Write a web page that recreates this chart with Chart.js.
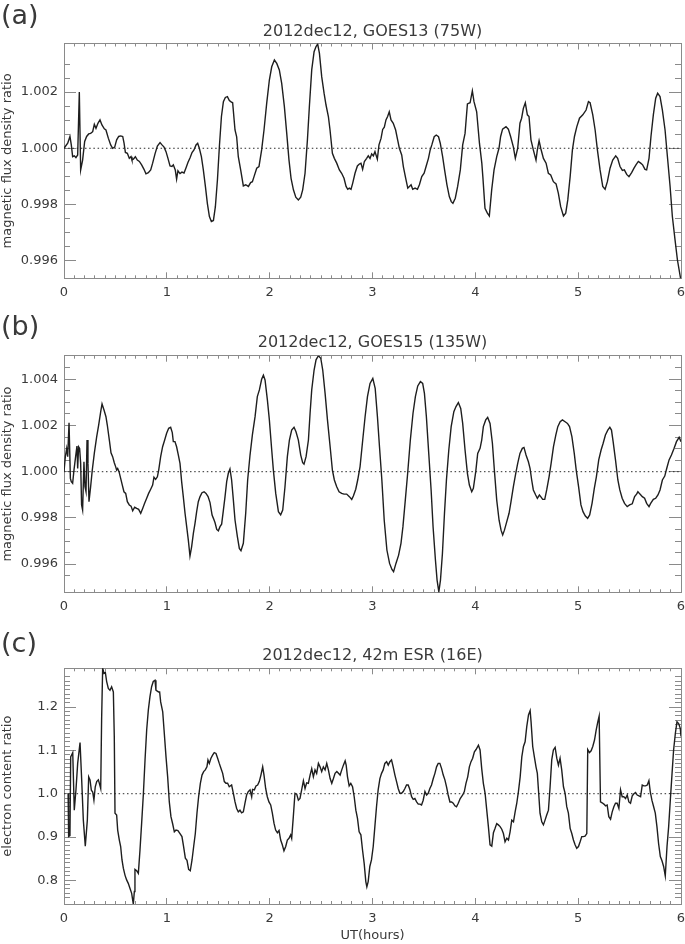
<!DOCTYPE html>
<html><head><meta charset="utf-8">
<script src="https://cdn.jsdelivr.net/npm/chart.js@4.4.1/dist/chart.umd.min.js"></script>
<style>
html,body{margin:0;padding:0;background:#fff;}
body{width:685px;height:944px;position:relative;overflow:hidden;}
canvas{position:absolute;left:0;}
</style></head><body>
<canvas id="pa" width="685" height="310" style="top:0px"></canvas>
<canvas id="pb" width="685" height="310" style="top:310px"></canvas>
<canvas id="pc" width="685" height="324" style="top:620px"></canvas>
<script>
// ---------------- data ----------------
const timeA = [0.000,0.036,0.058,0.071,0.084,0.100,0.116,0.133,0.149,0.162,0.181,0.201,0.220,0.240,0.259,0.279,0.295,0.311,0.330,0.350,0.369,0.392,0.408,0.431,0.454,0.473,0.493,0.512,0.532,0.551,0.571,0.584,0.597,0.616,0.635,0.652,0.661,0.674,0.694,0.713,0.733,0.755,0.778,0.797,0.820,0.843,0.862,0.885,0.908,0.934,0.953,0.973,0.992,1.011,1.031,1.050,1.063,1.082,1.095,1.108,1.128,1.147,1.167,1.186,1.206,1.225,1.245,1.264,1.284,1.300,1.316,1.336,1.355,1.375,1.394,1.414,1.433,1.453,1.472,1.492,1.511,1.531,1.550,1.569,1.589,1.608,1.625,1.640,1.663,1.679,1.695,1.718,1.744,1.767,1.793,1.815,1.832,1.848,1.874,1.896,1.922,1.945,1.971,1.997,2.020,2.046,2.069,2.094,2.117,2.143,2.166,2.188,2.208,2.231,2.254,2.279,2.302,2.321,2.344,2.367,2.386,2.409,2.432,2.451,2.467,2.484,2.506,2.529,2.548,2.571,2.587,2.610,2.629,2.652,2.678,2.700,2.723,2.743,2.759,2.775,2.791,2.807,2.830,2.853,2.872,2.888,2.904,2.921,2.943,2.959,2.976,2.992,3.008,3.024,3.047,3.063,3.083,3.099,3.115,3.131,3.147,3.163,3.180,3.202,3.225,3.245,3.261,3.284,3.300,3.323,3.343,3.359,3.375,3.391,3.414,3.437,3.456,3.479,3.502,3.521,3.544,3.561,3.577,3.600,3.620,3.642,3.659,3.682,3.701,3.724,3.747,3.766,3.782,3.805,3.828,3.854,3.877,3.900,3.923,3.949,3.971,3.987,4.013,4.040,4.063,4.073,4.094,4.117,4.136,4.159,4.182,4.208,4.230,4.246,4.265,4.298,4.321,4.343,4.369,4.389,4.412,4.434,4.450,4.467,4.486,4.506,4.522,4.541,4.564,4.590,4.603,4.620,4.636,4.662,4.688,4.710,4.733,4.759,4.785,4.807,4.830,4.857,4.879,4.899,4.922,4.944,4.964,4.987,5.013,5.045,5.077,5.100,5.116,5.142,5.165,5.187,5.213,5.239,5.262,5.284,5.310,5.336,5.365,5.384,5.407,5.430,5.449,5.472,5.494,5.520,5.543,5.562,5.585,5.608,5.627,5.650,5.666,5.689,5.708,5.731,5.754,5.773,5.796,5.819,5.845,5.868,5.894,5.916,5.942,5.965,5.997];
const valueA = [1.00000,1.00018,1.00042,1.00012,0.99970,0.99973,0.99967,0.99976,1.00200,0.99923,0.99958,1.00024,1.00042,1.00051,1.00053,1.00059,1.00085,1.00071,1.00089,1.00101,1.00083,1.00069,1.00065,1.00036,1.00012,1.00000,1.00004,1.00030,1.00042,1.00044,1.00042,1.00018,0.99985,0.99982,0.99964,0.99970,0.99958,0.99961,0.99970,0.99958,0.99953,0.99941,0.99925,0.99909,0.99913,0.99923,0.99947,0.99980,1.00008,1.00020,1.00012,1.00004,0.99988,0.99964,0.99937,0.99935,0.99941,0.99923,0.99890,0.99920,0.99910,0.99915,0.99912,0.99930,0.99950,0.99965,0.99985,0.99994,1.00012,1.00018,1.00000,0.99970,0.99923,0.99864,0.99804,0.99757,0.99739,0.99743,0.99792,0.99887,1.00006,1.00113,1.00166,1.00181,1.00184,1.00170,1.00165,1.00162,1.00065,1.00041,0.99970,0.99923,0.99866,0.99870,0.99864,0.99878,0.99881,0.99899,0.99929,0.99935,0.99994,1.00065,1.00160,1.00243,1.00290,1.00314,1.00302,1.00279,1.00231,1.00148,1.00053,0.99958,0.99893,0.99852,0.99826,0.99816,0.99826,0.99852,0.99911,1.00029,1.00148,1.00279,1.00344,1.00362,1.00371,1.00338,1.00255,1.00196,1.00154,1.00113,1.00065,0.99982,0.99964,0.99947,0.99923,0.99911,0.99893,0.99864,0.99854,0.99858,0.99854,0.99875,0.99911,0.99937,0.99944,0.99947,0.99925,0.99953,0.99964,0.99973,0.99964,0.99980,0.99973,0.99988,0.99961,1.00012,1.00035,1.00067,1.00075,1.00101,1.00113,1.00130,1.00101,1.00089,1.00065,1.00029,1.00000,0.99976,0.99935,0.99893,0.99858,0.99864,0.99870,0.99854,0.99858,0.99854,0.99870,0.99899,0.99911,0.99935,0.99964,0.99994,1.00012,1.00041,1.00047,1.00041,1.00018,0.99970,0.99923,0.99870,0.99828,0.99810,0.99804,0.99822,0.99864,0.99923,1.00012,1.00053,1.00158,1.00162,1.00204,1.00166,1.00130,1.00018,0.99947,0.99899,0.99786,0.99769,0.99759,0.99852,0.99923,0.99970,1.00000,1.00042,1.00068,1.00077,1.00068,1.00042,1.00006,0.99964,1.00000,1.00089,1.00107,1.00142,1.00162,1.00119,1.00113,1.00030,0.99994,0.99958,0.99994,1.00027,1.00000,0.99964,0.99947,0.99911,0.99905,0.99881,0.99873,0.99840,0.99792,0.99759,0.99769,0.99816,0.99899,0.99994,1.00042,1.00077,1.00107,1.00119,1.00136,1.00166,1.00162,1.00119,1.00065,0.99994,0.99923,0.99864,0.99854,0.99881,0.99929,0.99958,0.99973,0.99964,0.99935,0.99921,0.99923,0.99907,0.99899,0.99913,0.99929,0.99941,0.99953,0.99947,0.99941,0.99925,0.99923,0.99964,1.00042,1.00119,1.00178,1.00196,1.00184,1.00136,1.00065,0.99970,0.99864,0.99757,0.99674,0.99603,0.99534];

const timeB = [0.000,0.013,0.026,0.036,0.049,0.062,0.071,0.084,0.097,0.113,0.126,0.133,0.142,0.152,0.162,0.171,0.181,0.194,0.204,0.214,0.224,0.233,0.243,0.259,0.275,0.295,0.318,0.337,0.357,0.370,0.389,0.408,0.421,0.441,0.457,0.473,0.489,0.502,0.512,0.522,0.535,0.551,0.567,0.583,0.600,0.616,0.635,0.652,0.668,0.687,0.707,0.726,0.746,0.765,0.784,0.804,0.823,0.843,0.862,0.875,0.891,0.908,0.921,0.940,0.959,0.979,0.998,1.018,1.037,1.053,1.063,1.079,1.095,1.112,1.128,1.144,1.160,1.177,1.193,1.209,1.225,1.241,1.258,1.274,1.290,1.306,1.323,1.342,1.362,1.381,1.401,1.420,1.440,1.453,1.469,1.485,1.501,1.517,1.533,1.550,1.566,1.582,1.598,1.614,1.630,1.647,1.663,1.686,1.705,1.721,1.744,1.767,1.786,1.809,1.832,1.858,1.880,1.900,1.922,1.939,1.955,1.978,1.997,2.020,2.036,2.059,2.085,2.107,2.127,2.149,2.172,2.192,2.214,2.237,2.256,2.279,2.302,2.321,2.334,2.354,2.377,2.393,2.409,2.432,2.451,2.474,2.497,2.516,2.539,2.562,2.588,2.610,2.629,2.652,2.675,2.700,2.723,2.749,2.775,2.798,2.814,2.837,2.856,2.879,2.905,2.928,2.951,2.976,3.003,3.026,3.048,3.068,3.091,3.114,3.140,3.166,3.189,3.205,3.228,3.254,3.277,3.296,3.319,3.342,3.368,3.394,3.417,3.440,3.466,3.488,3.505,3.524,3.547,3.570,3.589,3.612,3.628,3.645,3.661,3.680,3.700,3.719,3.742,3.765,3.791,3.812,3.835,3.858,3.877,3.900,3.923,3.942,3.965,3.981,4.004,4.023,4.046,4.062,4.078,4.101,4.120,4.143,4.166,4.185,4.208,4.231,4.250,4.266,4.283,4.305,4.328,4.347,4.370,4.393,4.412,4.434,4.457,4.473,4.493,4.516,4.532,4.548,4.564,4.587,4.603,4.623,4.636,4.655,4.675,4.694,4.717,4.737,4.760,4.783,4.802,4.825,4.847,4.873,4.896,4.916,4.939,4.962,4.981,5.004,5.027,5.047,5.070,5.092,5.112,5.135,5.157,5.177,5.200,5.223,5.243,5.265,5.288,5.308,5.324,5.340,5.363,5.386,5.405,5.428,5.451,5.477,5.500,5.526,5.549,5.568,5.581,5.601,5.624,5.646,5.666,5.689,5.705,5.731,5.754,5.776,5.796,5.819,5.842,5.861,5.884,5.907,5.933,5.956,5.982,6.000];
const valueB = [1.00000,1.00065,1.00100,1.00065,1.00212,0.99971,0.99957,0.99950,1.00007,1.00065,1.00111,1.00014,1.00108,1.00101,1.00036,0.99856,0.99834,1.00043,0.99935,0.99914,1.00137,1.00036,0.99870,0.99935,1.00007,1.00080,1.00152,1.00202,1.00260,1.00293,1.00267,1.00238,1.00202,1.00137,1.00082,1.00065,1.00039,1.00022,1.00007,1.00014,1.00000,0.99971,0.99942,0.99913,0.99906,0.99870,0.99856,0.99851,0.99831,0.99846,0.99841,0.99837,0.99820,0.99841,0.99863,0.99885,0.99906,0.99924,0.99942,0.99976,0.99967,0.99978,1.00007,1.00065,1.00108,1.00137,1.00166,1.00188,1.00192,1.00169,1.00130,1.00130,1.00108,1.00072,1.00036,0.99957,0.99892,0.99820,0.99762,0.99704,0.99635,0.99675,0.99733,0.99776,0.99827,0.99870,0.99892,0.99909,0.99913,0.99906,0.99892,0.99866,0.99812,0.99798,0.99779,0.99750,0.99744,0.99762,0.99773,0.99834,0.99892,0.99957,0.99993,1.00012,0.99964,0.99877,0.99791,0.99719,0.99668,0.99658,0.99690,0.99820,0.99964,1.00072,1.00159,1.00238,1.00325,1.00354,1.00400,1.00418,1.00397,1.00310,1.00224,1.00094,1.00007,0.99906,0.99827,0.99813,0.99834,0.99935,1.00065,1.00137,1.00180,1.00192,1.00173,1.00137,1.00072,1.00039,1.00033,1.00065,1.00137,1.00253,1.00354,1.00440,1.00484,1.00502,1.00491,1.00440,1.00339,1.00224,1.00108,1.00007,0.99964,0.99935,0.99913,0.99906,0.99903,0.99903,0.99892,0.99880,0.99895,0.99924,0.99964,1.00022,1.00137,1.00238,1.00325,1.00382,1.00404,1.00361,1.00238,1.00108,0.99964,0.99790,0.99661,0.99603,0.99577,0.99567,0.99603,0.99639,0.99690,0.99762,0.99877,0.99993,1.00137,1.00253,1.00325,1.00371,1.00390,1.00382,1.00339,1.00238,1.00079,0.99921,0.99762,0.99618,0.99531,0.99480,0.99531,0.99646,0.99820,0.99964,1.00094,1.00195,1.00260,1.00282,1.00299,1.00274,1.00209,1.00094,0.99993,0.99942,0.99913,0.99928,1.00000,1.00079,1.00101,1.00137,1.00195,1.00224,1.00235,1.00209,1.00123,1.00007,0.99877,0.99790,0.99747,0.99726,0.99747,0.99783,0.99820,0.99870,0.99935,0.99993,1.00036,1.00079,1.00101,1.00105,1.00072,1.00043,1.00014,0.99964,0.99921,0.99899,0.99885,0.99899,0.99892,0.99880,0.99880,0.99921,0.99978,1.00036,1.00108,1.00159,1.00195,1.00216,1.00224,1.00216,1.00209,1.00195,1.00152,1.00079,1.00007,0.99935,0.99856,0.99827,0.99808,0.99798,0.99813,0.99863,0.99928,0.99978,1.00051,1.00094,1.00123,1.00159,1.00180,1.00192,1.00180,1.00130,1.00051,0.99964,0.99921,0.99885,0.99863,0.99849,0.99856,0.99861,0.99892,0.99903,0.99913,0.99903,0.99892,0.99885,0.99863,0.99849,0.99863,0.99880,0.99885,0.99899,0.99921,0.99964,0.99981,1.00014,1.00051,1.00072,1.00101,1.00130,1.00149,1.00130];

const timeC = [0.040,0.045,0.058,0.065,0.075,0.085,0.100,0.116,0.133,0.156,0.172,0.188,0.207,0.227,0.240,0.253,0.266,0.279,0.291,0.304,0.318,0.334,0.344,0.357,0.366,0.376,0.389,0.402,0.415,0.431,0.447,0.463,0.480,0.489,0.496,0.512,0.522,0.538,0.551,0.564,0.577,0.593,0.609,0.625,0.642,0.658,0.674,0.684,0.690,0.707,0.723,0.739,0.755,0.772,0.788,0.804,0.820,0.836,0.852,0.868,0.885,0.894,0.907,0.920,0.930,0.940,0.960,0.973,0.992,1.008,1.024,1.040,1.057,1.073,1.089,1.108,1.128,1.147,1.163,1.180,1.196,1.212,1.228,1.245,1.261,1.277,1.293,1.309,1.326,1.342,1.358,1.374,1.390,1.400,1.413,1.429,1.445,1.461,1.478,1.494,1.510,1.526,1.543,1.559,1.575,1.591,1.607,1.630,1.647,1.663,1.679,1.695,1.711,1.727,1.744,1.760,1.776,1.792,1.809,1.825,1.834,1.851,1.867,1.883,1.899,1.915,1.932,1.945,1.961,1.977,1.993,2.010,2.026,2.042,2.058,2.075,2.091,2.107,2.123,2.139,2.156,2.172,2.188,2.204,2.214,2.230,2.246,2.263,2.279,2.295,2.311,2.328,2.344,2.360,2.376,2.393,2.409,2.425,2.441,2.457,2.474,2.490,2.506,2.522,2.539,2.555,2.571,2.588,2.604,2.620,2.636,2.653,2.669,2.685,2.701,2.717,2.734,2.744,2.757,2.773,2.789,2.806,2.822,2.838,2.854,2.870,2.887,2.903,2.919,2.935,2.945,2.958,2.974,2.990,3.007,3.023,3.039,3.055,3.072,3.088,3.104,3.120,3.137,3.153,3.169,3.185,3.201,3.218,3.234,3.250,3.266,3.283,3.299,3.315,3.331,3.347,3.364,3.380,3.396,3.412,3.429,3.445,3.461,3.477,3.493,3.510,3.526,3.542,3.558,3.574,3.591,3.607,3.623,3.639,3.655,3.672,3.688,3.704,3.720,3.736,3.753,3.769,3.785,3.801,3.817,3.834,3.853,3.877,3.893,3.909,3.926,3.942,3.958,3.974,3.991,4.007,4.030,4.046,4.062,4.078,4.095,4.111,4.127,4.143,4.160,4.176,4.192,4.208,4.224,4.241,4.257,4.273,4.289,4.306,4.322,4.338,4.354,4.371,4.387,4.403,4.419,4.436,4.452,4.468,4.484,4.500,4.517,4.533,4.542,4.558,4.574,4.590,4.603,4.616,4.629,4.646,4.662,4.678,4.694,4.711,4.727,4.743,4.759,4.776,4.792,4.808,4.824,4.840,4.857,4.873,4.889,4.905,4.922,4.938,4.954,4.970,4.986,5.003,5.019,5.035,5.051,5.067,5.084,5.093,5.110,5.126,5.142,5.159,5.175,5.191,5.204,5.217,5.233,5.250,5.266,5.282,5.298,5.315,5.331,5.347,5.363,5.379,5.396,5.412,5.428,5.444,5.461,5.477,5.493,5.509,5.526,5.542,5.558,5.574,5.591,5.607,5.623,5.639,5.656,5.672,5.688,5.701,5.717,5.734,5.750,5.766,5.782,5.799,5.815,5.831,5.847,5.864,5.880,5.896,5.912,5.928,5.945,5.961,5.977,5.993,6.000];
const valueC = [1.000,0.901,0.903,1.085,1.090,1.095,0.962,1.008,1.070,1.118,1.032,0.939,0.879,0.939,1.039,1.032,1.008,1.004,0.985,1.016,1.028,1.032,1.024,1.012,1.174,1.290,1.278,1.280,1.259,1.243,1.239,1.247,1.235,1.132,0.955,0.951,0.916,0.893,0.878,0.847,0.828,0.812,0.801,0.793,0.781,0.770,0.745,0.774,0.825,0.822,0.816,0.870,0.932,1.000,1.078,1.147,1.193,1.224,1.247,1.259,1.262,1.239,1.237,1.235,1.235,1.212,1.189,1.147,1.085,1.039,0.981,0.947,0.930,0.912,0.916,0.915,0.908,0.901,0.878,0.851,0.846,0.825,0.822,0.847,0.878,0.908,0.955,0.993,1.024,1.043,1.051,1.055,1.062,1.078,1.070,1.082,1.089,1.095,1.093,1.082,1.070,1.059,1.047,1.028,1.024,1.024,1.016,1.020,1.001,0.981,0.966,0.958,0.962,0.956,0.958,0.978,0.997,1.005,1.009,0.993,1.010,1.009,1.018,1.020,1.028,1.043,1.062,1.043,1.012,0.993,0.981,0.974,0.955,0.932,0.916,0.910,0.915,0.893,0.882,0.868,0.878,0.893,0.897,0.905,0.897,0.947,1.001,0.999,0.985,0.989,1.009,1.030,1.012,1.025,1.024,1.043,1.058,1.039,1.055,1.047,1.070,1.062,1.051,1.062,1.055,1.070,1.055,1.035,1.024,1.035,1.047,1.051,1.047,1.043,1.055,1.066,1.076,1.066,1.039,1.018,1.024,1.016,0.993,0.962,0.943,0.912,0.905,0.870,0.839,0.797,0.785,0.797,0.832,0.847,0.878,0.924,0.970,1.009,1.035,1.047,1.055,1.070,1.074,1.066,1.074,1.078,1.062,1.043,1.028,1.012,1.001,1.001,1.005,1.012,1.020,1.020,1.009,0.993,0.987,0.989,0.981,0.976,0.976,0.974,0.985,1.005,0.997,1.001,1.012,1.020,1.035,1.047,1.062,1.070,1.070,1.058,1.043,1.032,1.016,0.997,0.981,0.981,0.978,0.972,0.970,0.978,0.989,0.997,1.005,1.024,1.039,1.062,1.074,1.082,1.097,1.102,1.112,1.101,1.058,1.024,1.001,0.962,0.924,0.882,0.879,0.910,0.920,0.931,0.928,0.924,0.918,0.908,0.889,0.897,0.893,0.912,0.939,0.935,0.958,0.978,1.005,1.039,1.085,1.109,1.120,1.155,1.182,1.192,1.166,1.109,1.085,1.062,1.047,1.001,0.955,0.935,0.928,0.939,0.951,0.962,1.016,1.078,1.101,1.107,1.082,1.066,1.082,1.055,1.016,1.001,0.970,0.955,0.920,0.908,0.893,0.882,0.874,0.878,0.889,0.901,0.901,0.902,0.908,1.102,1.095,1.099,1.109,1.124,1.147,1.166,1.179,0.981,0.979,0.976,0.972,0.974,0.947,0.941,0.958,0.970,0.978,0.978,0.966,1.009,0.993,0.993,0.989,0.997,0.981,0.978,0.995,1.000,1.003,0.997,0.995,0.993,1.020,1.018,1.018,1.020,1.030,1.005,0.985,0.970,0.955,0.924,0.885,0.855,0.845,0.832,0.810,0.878,0.924,0.985,1.043,1.101,1.139,1.166,1.162,1.151,1.132];

const referenceLevel = 1.0;
const timeRange = [0, 6];
const rangeA = [0.99537, 1.00373];
const rangeB = [0.99478, 1.00502];
const rangeC = [0.7453, 1.2896];

const xTickValues = [0, 1, 2, 3, 4, 5, 6];
const xTickLabels = ['0', '1', '2', '3', '4', '5', '6'];
const yTickValuesA = [0.996, 0.998, 1.000, 1.002];
const yTickLabelsA = ['0.996', '0.998', '1.000', '1.002'];
const yTickValuesB = [0.996, 0.998, 1.000, 1.002, 1.004];
const yTickLabelsB = ['0.996', '0.998', '1.000', '1.002', '1.004'];
const yTickValuesC = [0.8, 0.9, 1.0, 1.1, 1.2];
const yTickLabelsC = ['0.8', '0.9', '1.0', '1.1', '1.2'];

// ---------------- styling ----------------
const FONT = "'DejaVu Sans', 'Liberation Sans', sans-serif";
const AXIS = '#8a8a8a';
const TEXT = '#3a3a3a';
const LINE = '#1e1e1e';

const panelTextPlugin = {
  id: 'panelText',
  afterDraw(chart, args, o) {
    const ctx = chart.ctx, ca = chart.chartArea;
    ctx.save();
    ctx.fillStyle = TEXT;
    ctx.textBaseline = 'middle';
    ctx.textAlign = 'left';
    ctx.font = '27px ' + FONT;
    ctx.fillText(o.label, 1, o.labelY);
    ctx.textAlign = 'center';
    ctx.font = '16px ' + FONT;
    ctx.fillText(o.title, (ca.left + ca.right) / 2, o.titleY);
    ctx.restore();
  }
};

function fixedTicks(values) {
  return function (scale) { scale.ticks = values.map(v => ({ value: v })); };
}
function gridTicks(len) {
  return { display: true, drawOnChartArea: false, drawTicks: true, tickLength: -len, color: AXIS, lineWidth: 1 };
}
function fitHeight(h) {
  return function (s) { s.height = h; s.paddingLeft = 0; s.paddingRight = 0; s.paddingTop = 0; s.paddingBottom = 0; };
}
function fitWidth(w) {
  return function (s) { s.width = w; s.paddingLeft = 0; s.paddingRight = 0; s.paddingTop = 0; s.paddingBottom = 0; };
}

function makePanel(id, p) {
  const horiz = { type: 'linear', min: timeRange[0], max: timeRange[1] };
  const vert = { type: 'linear', min: p.range[0], max: p.range[1] };
  const border = { display: true, color: AXIS, width: 1 };
  const scales = {
    x: Object.assign({}, horiz, {
      position: 'bottom', weight: 1,
      afterBuildTicks: fixedTicks(xTickValues),
      afterFit: fitHeight(p.bottomH),
      grid: gridTicks(6), border: border,
      ticks: { display: true, autoSkip: false, maxRotation: 0, minRotation: 0, padding: 13, color: TEXT,
               font: { family: FONT, size: 13 }, callback: (v, i) => xTickLabels[i] },
      title: p.xTitle ? { display: true, text: p.xTitle, color: TEXT, font: { family: FONT, size: 13 },
                          padding: { top: 0, bottom: 1 } } : { display: false }
    }),
    xm: Object.assign({}, horiz, {
      position: 'bottom', weight: 0, afterFit: fitHeight(0),
      grid: gridTicks(3), border: { display: false },
      ticks: { display: false, stepSize: 0.1, autoSkip: false }
    }),
    xt: Object.assign({}, horiz, {
      position: 'top', weight: 1, afterBuildTicks: fixedTicks(xTickValues),
      afterFit: fitHeight(0),
      grid: gridTicks(6), border: border, ticks: { display: false }
    }),
    xtm: Object.assign({}, horiz, {
      position: 'top', weight: 0, afterFit: fitHeight(0),
      grid: gridTicks(3), border: { display: false },
      ticks: { display: false, stepSize: 0.1, autoSkip: false }
    }),
    y: Object.assign({}, vert, {
      position: 'left', weight: 1, afterBuildTicks: fixedTicks(p.yTicks),
      afterFit: fitWidth(64),
      grid: gridTicks(12), border: border,
      ticks: { display: true, autoSkip: false, padding: 18, color: TEXT,
               font: { family: FONT, size: 13 }, callback: (v, i) => p.yLabels[i] },
      title: { display: true, text: p.yTitle, color: TEXT, font: { family: FONT, size: 13 },
               padding: { top: 0, bottom: 0 } }
    }),
    ym: Object.assign({}, vert, {
      position: 'left', weight: 0, afterFit: fitWidth(0),
      grid: gridTicks(6), border: { display: false },
      ticks: { display: false, stepSize: p.yMinor, autoSkip: false }
    }),
    yr: Object.assign({}, vert, {
      position: 'right', weight: 1, afterBuildTicks: fixedTicks(p.yTicks),
      afterFit: fitWidth(0),
      grid: gridTicks(12), border: border, ticks: { display: false }
    }),
    yrm: Object.assign({}, vert, {
      position: 'right', weight: 0, afterFit: fitWidth(0),
      grid: gridTicks(6), border: { display: false },
      ticks: { display: false, stepSize: p.yMinor, autoSkip: false }
    })
  };
  return new Chart(document.getElementById(id), {
    type: 'line',
    data: {
      datasets: [
        { data: p.times.map((t, i) => ({ x: t, y: p.values[i] })), borderColor: LINE, borderWidth: 1.4,
          pointRadius: 0, fill: false, tension: 0, xAxisID: 'x', yAxisID: 'y' },
        { data: [{ x: timeRange[0], y: referenceLevel }, { x: timeRange[1], y: referenceLevel }],
          borderColor: '#2a2a2a', borderWidth: 1, borderDash: [1.5, 2.7], pointRadius: 0,
          fill: false, xAxisID: 'x', yAxisID: 'y' }
      ]
    },
    options: {
      responsive: false, animation: false, devicePixelRatio: 1, events: [],
      layout: { padding: { top: p.padTop, right: 4, left: 0, bottom: 0 } },
      plugins: { legend: { display: false }, tooltip: { enabled: false }, title: { display: false },
                 panelText: { label: p.label, labelY: p.labelY, title: p.title, titleY: p.titleY } },
      scales: scales
    },
    plugins: [panelTextPlugin]
  });
}

makePanel('pa', { times: timeA, values: valueA, range: rangeA, yTicks: yTickValuesA, yLabels: yTickLabelsA,
  yMinor: 0.0005, yTitle: 'magnetic flux density ratio', label: '(a)', labelY: 17,
  title: '2012dec12, GOES13 (75W)', titleY: 32, padTop: 43.5, bottomH: 31.7 });
makePanel('pb', { times: timeB, values: valueB, range: rangeB, yTicks: yTickValuesB, yLabels: yTickLabelsB,
  yMinor: 0.0005, yTitle: 'magnetic flux density ratio', label: '(b)', labelY: 18,
  title: '2012dec12, GOES15 (135W)', titleY: 33, padTop: 45.7, bottomH: 27.7 });
makePanel('pc', { times: timeC, values: valueC, range: rangeC, yTicks: yTickValuesC, yLabels: yTickLabelsC,
  yMinor: 0.01, yTitle: 'electron content ratio', label: '(c)', labelY: 25,
  title: '2012dec12, 42m ESR (16E)', titleY: 36, padTop: 48.3, bottomH: 40, xTitle: 'UT(hours)' });
</script>
</body></html>
